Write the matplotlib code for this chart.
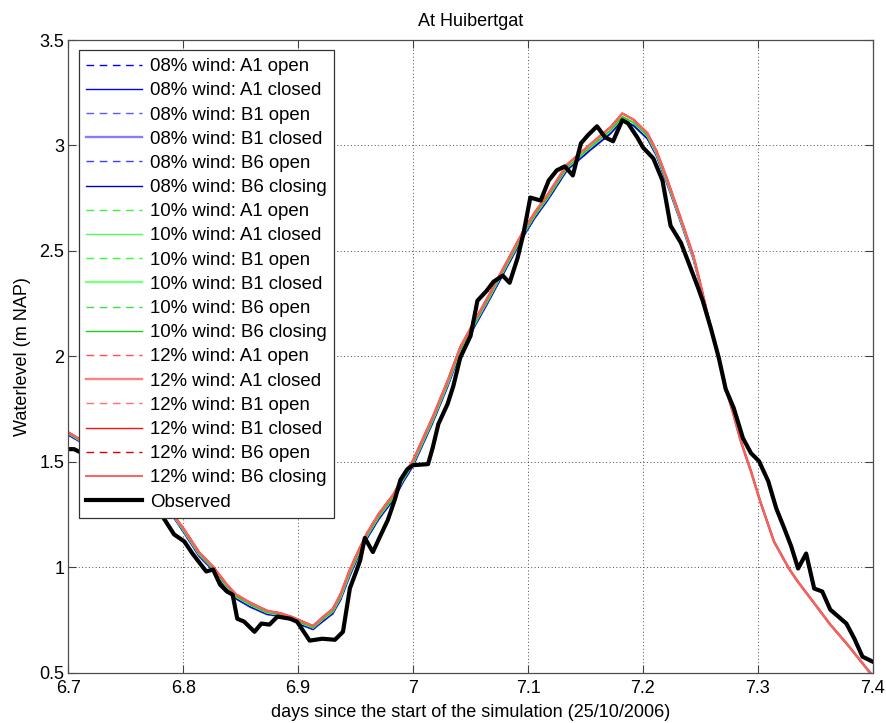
import numpy as np
import matplotlib
matplotlib.use("Agg")
import matplotlib.pyplot as plt

plt.rcParams['font.family'] = ['Liberation Sans', 'DejaVu Sans']
plt.rcParams['font.size'] = 13

# simulated water level (shared time axis, one curve per wind setting)
sim_t = [6.700, 6.720, 6.740, 6.760, 6.780, 6.792, 6.801, 6.814, 6.826, 6.838,
         6.846, 6.858, 6.873, 6.884, 6.895, 6.904, 6.913, 6.921, 6.930, 6.937,
         6.945, 6.952, 6.960, 6.970, 6.983, 6.991, 7.000, 7.017, 7.030, 7.041,
         7.053, 7.065, 7.083, 7.096, 7.106, 7.117, 7.134, 7.154, 7.172, 7.182,
         7.192, 7.204, 7.212, 7.221, 7.233, 7.244, 7.250, 7.259, 7.266, 7.272,
         7.279, 7.285, 7.294, 7.302, 7.314, 7.327, 7.335, 7.346, 7.363, 7.378,
         7.397, 7.400]
sim_08 = [1.628, 1.565, 1.485, 1.395, 1.295, 1.235, 1.162, 1.052, 0.985, 0.898,
          0.851, 0.813, 0.777, 0.768, 0.749, 0.724, 0.706, 0.742, 0.780, 0.848,
          0.962, 1.048, 1.138, 1.228, 1.322, 1.402, 1.482, 1.686, 1.858, 2.018,
          2.138, 2.255, 2.438, 2.570, 2.658, 2.741, 2.884, 2.978, 3.058, 3.120,
          3.094, 3.032, 2.950, 2.820, 2.636, 2.460, 2.335, 2.135, 1.993, 1.850,
          1.720, 1.600, 1.455, 1.313, 1.122, 0.994, 0.930, 0.851, 0.728, 0.633,
          0.504, 0.485]
sim_10 = [1.635, 1.570, 1.490, 1.400, 1.300, 1.241, 1.170, 1.061, 0.994, 0.908,
          0.861, 0.823, 0.785, 0.775, 0.756, 0.733, 0.714, 0.752, 0.790, 0.860,
          0.975, 1.060, 1.150, 1.240, 1.333, 1.414, 1.494, 1.698, 1.870, 2.030,
          2.150, 2.267, 2.450, 2.582, 2.670, 2.753, 2.896, 2.991, 3.072, 3.136,
          3.108, 3.045, 2.960, 2.830, 2.644, 2.468, 2.340, 2.135, 1.993, 1.850,
          1.720, 1.600, 1.455, 1.313, 1.122, 0.994, 0.930, 0.851, 0.728, 0.633,
          0.504, 0.485]
sim_12 = [1.640, 1.575, 1.495, 1.405, 1.305, 1.246, 1.178, 1.070, 1.003, 0.918,
          0.871, 0.833, 0.794, 0.783, 0.764, 0.742, 0.722, 0.762, 0.802, 0.874,
          0.990, 1.074, 1.163, 1.253, 1.347, 1.428, 1.508, 1.712, 1.884, 2.044,
          2.164, 2.281, 2.464, 2.596, 2.684, 2.767, 2.910, 3.005, 3.088, 3.152,
          3.122, 3.058, 2.972, 2.842, 2.654, 2.476, 2.345, 2.137, 1.994, 1.850,
          1.720, 1.600, 1.455, 1.313, 1.122, 0.994, 0.930, 0.851, 0.728, 0.633,
          0.504, 0.485]

# observed water level
obs_t = [6.700, 6.705, 6.720, 6.740, 6.760, 6.782, 6.792, 6.801, 6.808, 6.820,
         6.826, 6.832, 6.838, 6.843, 6.847, 6.853, 6.862, 6.868, 6.875, 6.882,
         6.893, 6.899, 6.910, 6.921, 6.932, 6.939, 6.945, 6.951, 6.954, 6.958,
         6.965, 6.971, 6.978, 6.984, 6.989, 6.995, 7.000, 7.013, 7.017, 7.022,
         7.030, 7.035, 7.041, 7.050, 7.056, 7.064, 7.070, 7.078, 7.084, 7.091,
         7.096, 7.102, 7.111, 7.118, 7.125, 7.132, 7.139, 7.146, 7.152, 7.160,
         7.167, 7.174, 7.182, 7.187, 7.195, 7.200, 7.209, 7.217, 7.224, 7.233,
         7.240, 7.248, 7.252, 7.259, 7.266, 7.272, 7.279, 7.287, 7.294, 7.301,
         7.309, 7.316, 7.323, 7.329, 7.335, 7.342, 7.349, 7.356, 7.363, 7.377,
         7.384, 7.391, 7.400]
obs_y = [1.560, 1.560, 1.520, 1.450, 1.360, 1.241, 1.156, 1.122, 1.065, 0.980,
         0.989, 0.918, 0.885, 0.870, 0.756, 0.742, 0.694, 0.733, 0.728, 0.766,
         0.756, 0.742, 0.652, 0.661, 0.656, 0.694, 0.900, 0.987, 1.034, 1.139,
         1.072, 1.143, 1.224, 1.319, 1.414, 1.465, 1.484, 1.489, 1.565, 1.679,
         1.774, 1.859, 1.993, 2.097, 2.264, 2.311, 2.354, 2.383, 2.349, 2.468,
         2.582, 2.753, 2.739, 2.834, 2.882, 2.901, 2.858, 3.010, 3.048, 3.091,
         3.039, 3.020, 3.120, 3.105, 3.039, 2.991, 2.939, 2.834, 2.620, 2.539,
         2.440, 2.325, 2.264, 2.135, 1.993, 1.845, 1.755, 1.612, 1.541, 1.503,
         1.408, 1.279, 1.184, 1.099, 0.994, 1.065, 0.899, 0.885, 0.799, 0.733,
         0.661, 0.576, 0.552]

winds = ['08%', '10%', '12%']
scenarios = ['A1 open', 'A1 closed', 'B1 open', 'B1 closed', 'B6 open', 'B6 closing']
sim_by_wind = {'08%': sim_08, '10%': sim_10, '12%': sim_12}

styles = {
    '08%': [('#0000ff', 'd', 1.0), ('#0000ff', 's', 1.0), ('#5a5aff', 'd', 1.0),
            ('#8080ff', 's', 1.7), ('#4040ff', 'd', 1.0), ('#0000c8', 's', 1.0)],
    '10%': [('#40f040', 'd', 1.0), ('#50ff50', 's', 1.0), ('#30ff30', 'd', 1.0),
            ('#80ff80', 's', 1.7), ('#40e040', 'd', 1.0), ('#20d020', 's', 1.0)],
    '12%': [('#ff5050', 'd', 1.0), ('#ff8080', 's', 1.7), ('#ff7070', 'd', 1.0),
            ('#ff1010', 's', 1.0), ('#e00000', 'd', 1.0), ('#ff6060', 's', 1.4)],
}

fig = plt.figure(figsize=(8.87, 7.23), dpi=100)
ax = fig.add_axes([0.077, 0.0696, 0.907, 0.875])

for w in winds:
    for sc, (col, ls, lw) in zip(scenarios, styles[w]):
        linestyle = (0, (5.5, 4)) if ls == 'd' else '-'
        ax.plot(sim_t, sim_by_wind[w], color=col, linestyle=linestyle, lw=lw,
                label=f'{w} wind: {sc}')
ax.plot(obs_t, obs_y, color='black', lw=3, label='Observed')

ax.set_xlim(6.7, 7.4)
ax.set_ylim(0.5, 3.5)
ax.set_xticks(np.arange(6.7, 7.41, 0.1))
ax.set_xticklabels(['6.7', '6.8', '6.9', '7', '7.1', '7.2', '7.3', '7.4'])
ax.set_yticks(np.arange(0.5, 3.51, 0.5))
ax.set_yticklabels(['0.5', '1', '1.5', '2', '2.5', '3', '3.5'])
ax.grid(True, linestyle=(0, (1, 2.5)), color='0.3', lw=0.7)
ax.tick_params(direction='in', length=6, width=0.8, top=True, right=True,
               colors='0.25', labelcolor='black')
ax.tick_params(axis='x', pad=5)
ax.tick_params(axis='y', pad=3)
for s in ax.spines.values():
    s.set_color('0.3')
    s.set_linewidth(0.9)

ax.set_title('At Huibertgat', fontsize=13, pad=10)
ax.set_xlabel('days since the start of the simulation (25/10/2006)', labelpad=5)
ax.set_ylabel('Waterlevel (m NAP)', labelpad=6)

leg = ax.legend(loc='upper left', fancybox=False, framealpha=1, edgecolor='0.2',
                fontsize=13.4, handlelength=3.0, handletextpad=0.4,
                labelspacing=0.385, borderpad=0.42, borderaxespad=0.55)
leg.get_frame().set_linewidth(0.9)

fig.savefig('out.png', dpi=100)
